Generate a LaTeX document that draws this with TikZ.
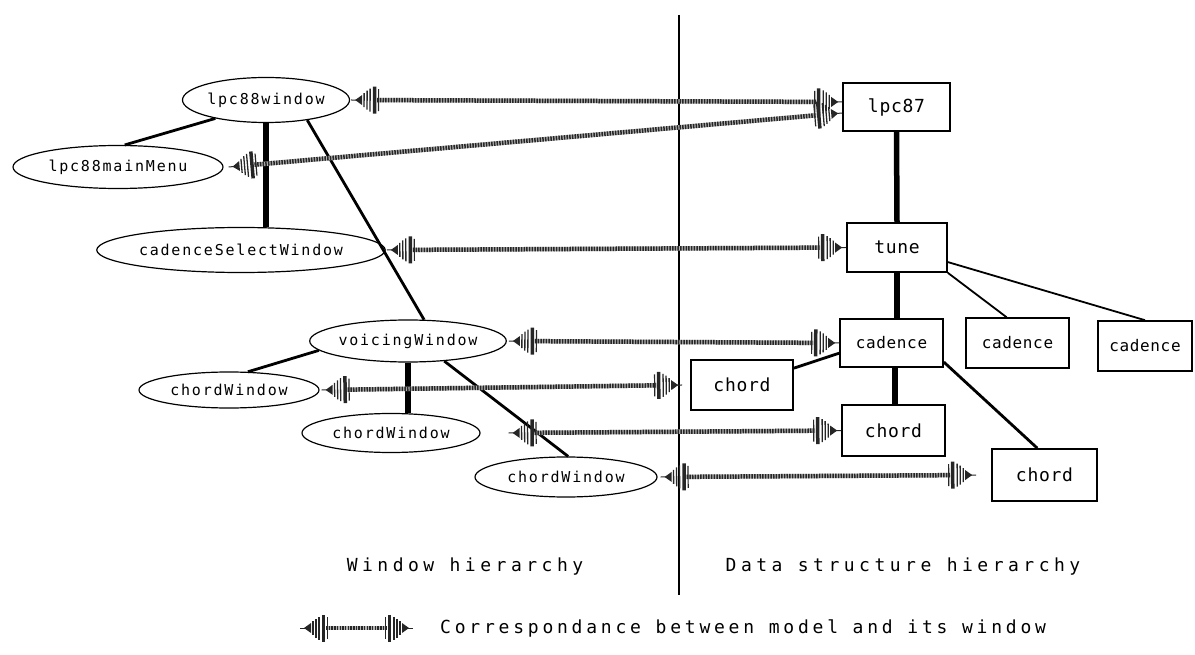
\documentclass[tikz,border=0pt]{standalone}
\usepackage{fontspec}
\usetikzlibrary{shapes.geometric,decorations.markings}
\newfontfamily\nodefont[LetterSpace=12]{DejaVu Sans Mono}
\newfontfamily\boxfont[LetterSpace=4]{DejaVu Sans Mono}
\newfontfamily\capfont[LetterSpace=25]{DejaVu Sans Mono}
\newfontfamily\legfont[LetterSpace=21]{DejaVu Sans Mono}
\newcommand\conetip{%
  \draw[line width=1pt, black!85] (-6pt,0pt) -- (0pt,0pt);
  \fill[black!85] (-4pt,0pt) -- (-11pt,5pt) -- (-11pt,-5pt) -- cycle;
  \draw[line width=1.3pt, black!85] (-13pt,-7pt) -- (-13pt,7pt);
  \draw[line width=1.3pt, black!85] (-16pt,-9.5pt) -- (-16pt,9.5pt);
  \draw[line width=1.3pt, black!85] (-19pt,-11.5pt) -- (-19pt,11.5pt);
  \draw[line width=3.5pt, black!85] (-23.5pt,-13.5pt) -- (-23.5pt,13.5pt);
  \draw[line width=1.2pt, black!85] (-27.5pt,-11pt) -- (-27.5pt,11pt);
}
\tikzset{
  win/.style={ellipse, draw, line width=1.2pt, inner sep=0pt, font=\nodefont\fontsize{15}{17}\selectfont},
  obj/.style={rectangle, draw, line width=1.6pt, inner sep=0pt, font=\boxfont\fontsize{16}{18}\selectfont},
  bigobj/.style={obj, font=\boxfont\fontsize{18}{20}\selectfont},
  captext/.style={inner sep=0pt, font=\capfont\fontsize{18}{20}\selectfont},
  legtext/.style={inner sep=0pt, font=\legfont\fontsize{18}{20}\selectfont},
  link/.style={line width=2.8pt},
  thinlink/.style={line width=1.8pt},
  trunk/.style={line width=5.5pt},
  corr/.style={postaction={decorate}, decoration={markings,
    mark=at position 0 with {
      \draw[line width=4.5pt, black!30] (26pt,0pt) -- (\pgfdecoratedpathlength-26pt,0pt);
      \draw[line width=4.5pt, black!85, dash pattern=on 1.5pt off 1.2pt] (26pt,0pt) -- (\pgfdecoratedpathlength-26pt,0pt);
      \begin{scope}[xscale=-1]\conetip\end{scope}
    },
    mark=at position 1 with {\conetip}}}
}
\begin{document}
\begin{tikzpicture}[x=1pt,y=-1pt]
\useasboundingbox (0,0) rectangle (1195,655);
% divider
\draw[line width=1.4pt] (679,15) -- (679,595);
% window hierarchy
\node[win, minimum width=167pt, minimum height=45pt] (lw) at (266,100) {lpc88window};
\node[win, minimum width=210pt, minimum height=43pt] (mm) at (118,167) {lpc88mainMenu};
\node[win, minimum width=275pt, minimum height=45pt] (csw) at (241,250) {cadenceSelectWindow};
\node[win, minimum width=187pt, minimum height=42pt] (vw) at (408,341) {voicingWindow};
\node[win, minimum width=180pt, minimum height=36pt] (cw1) at (229,390) {chordWindow};
\node[win, minimum width=178pt, minimum height=39pt] (cw2) at (391,433) {chordWindow};
\node[win, minimum width=182pt, minimum height=40pt] (cw3) at (566,477) {chordWindow};
% data structure hierarchy
\node[bigobj, minimum width=107pt, minimum height=48pt] (lpc) at (896.5,107) {lpc87};
\node[bigobj, minimum width=100pt, minimum height=49pt] (tune) at (897,247.5) {tune};
\node[obj, minimum width=103pt, minimum height=48pt] (cad1) at (891.5,343) {cadence};
\node[obj, minimum width=103pt, minimum height=50pt] (cad2) at (1017.5,343) {cadence};
\node[obj, minimum width=94pt, minimum height=50pt] (cad3) at (1145,346) {cadence};
\node[bigobj, minimum width=102pt, minimum height=50pt] (ch1) at (742,385) {chord};
\node[bigobj, minimum width=103pt, minimum height=51pt] (ch2) at (893.5,430.5) {chord};
\node[bigobj, minimum width=105pt, minimum height=52pt] (ch3) at (1044.5,475) {chord};
% tree links (windows)
\draw[link] (lw.200) -- (mm.73);
\draw[trunk] (lw.south) -- (lw.south |- csw.north);
\draw[link] (lw.-26) -- (vw.53);
\draw[link] (vw.186) -- (cw1.44);
\draw[trunk] (vw.south) -- (vw.south |- cw2.north);
\draw[link] (vw.-29) -- (cw3.84);
% tree links (data)
\draw[trunk] (lpc.south) -- (tune.north);
\draw[trunk] (tune.south) -- (tune.south |- cad1.north);
\draw[thinlink] (tune.south east) -- (cad2.113);
\draw[thinlink] (tune.-16) -- (cad3.north);
\draw[link] (cad1.191) -- (ch1.18);
\draw[trunk] ([xshift=3.5pt]cad1.south) -- ([xshift=3.5pt]cad1.south |- ch2.north);
\draw[link] (cad1.-20) -- (ch3.105);
% correspondences
\path[corr] ([xshift=1pt]lw.east) -- ([yshift=5pt]lpc.west);
\path[corr] ([xshift=5pt]mm.east) -- ([yshift=-6pt]lpc.west);
\path[corr] ([xshift=1pt]csw.east) -- (tune.west);
\path[corr] ([xshift=2pt]vw.east) -- (cad1.west);
\path[corr] ([xshift=2pt]cw1.east) -- ([xshift=-8pt]ch1.west);
\path[corr] ([xshift=28pt]cw2.east) -- (ch2.west);
\path[corr] ([xshift=3pt]cw3.east) -- ([xshift=-15pt]ch3.west);
% captions
\node[captext] (wh) at (465,567) {Window hierarchy};
\node[captext] (dh) at (903,567) {Data structure hierarchy};
\coordinate (la) at (300,628);
\coordinate (lb) at (413,628);
\path[corr] (la) -- (lb);
\node[legtext, anchor=west] (lt) at (440,628) {Correspondance between model and its window};
\end{tikzpicture}
\end{document}
